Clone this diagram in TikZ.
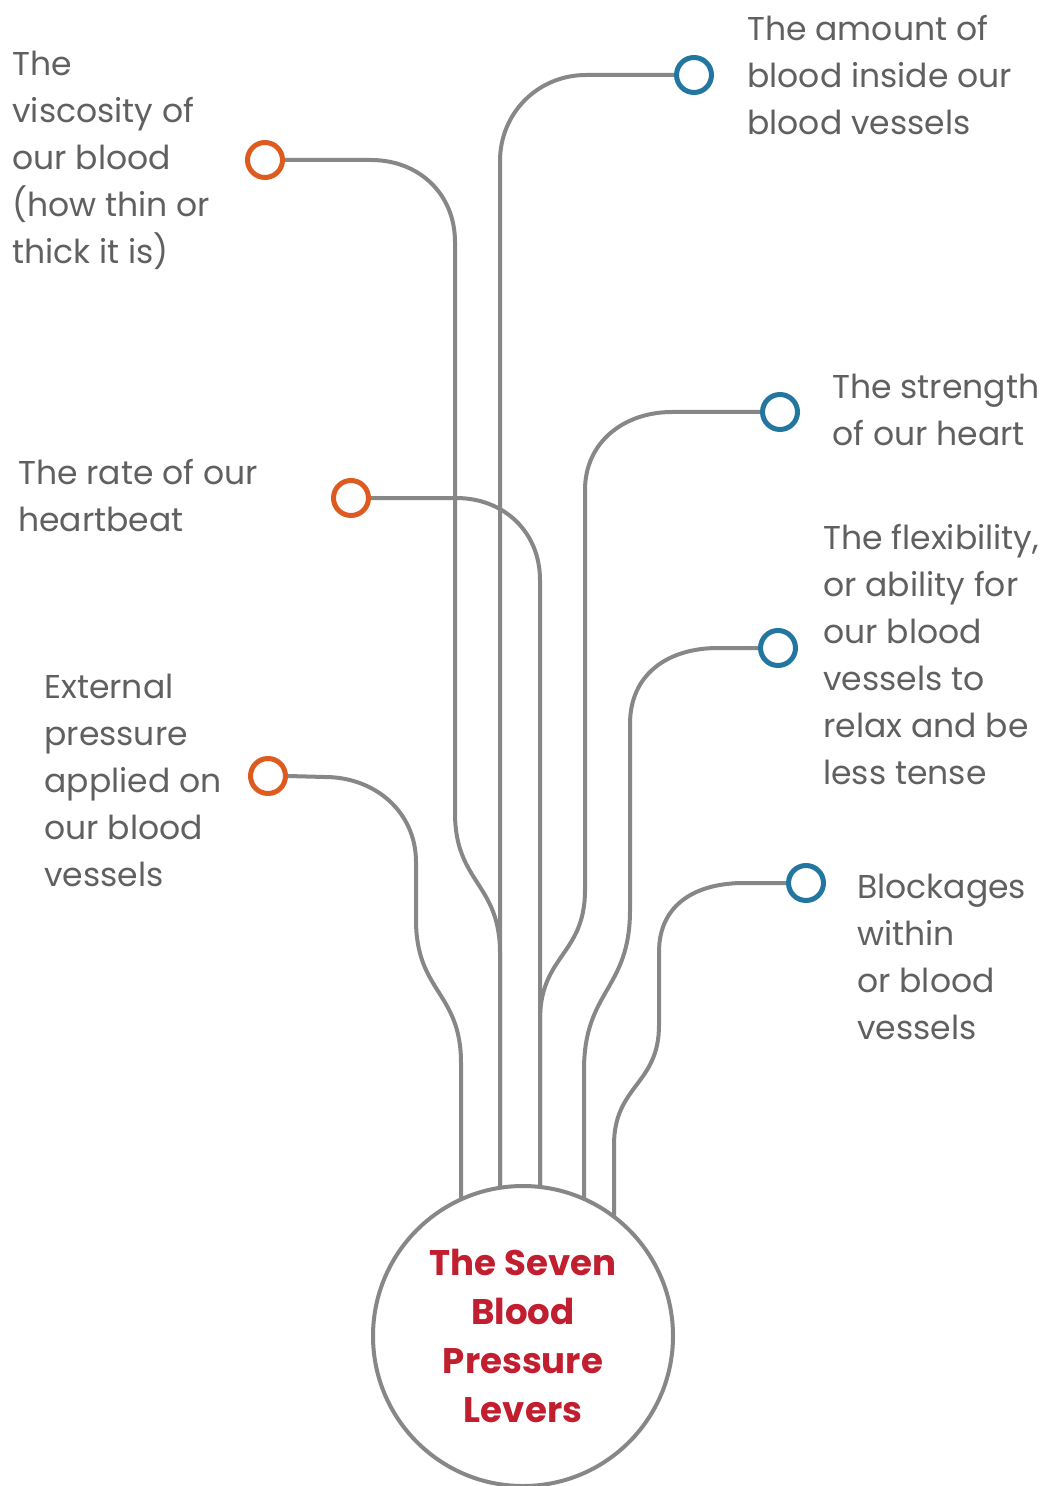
\documentclass[tikz,border=0pt]{standalone}
\usepackage{fontspec}
\setmainfont{Poppins}
\usepackage{tikz}
\usetikzlibrary{positioning,backgrounds}
\definecolor{lvgray}{HTML}{878787}
\definecolor{txtgray}{HTML}{606060}
\definecolor{lvorange}{HTML}{DE5B1F}
\definecolor{lvblue}{HTML}{23769F}
\definecolor{lvred}{HTML}{C11F30}

\begin{document}
\begin{tikzpicture}[
  x=0.5pt, y=-0.5pt,
  every node/.style={font=\fontsize{16.5}{23.5}\selectfont, text=txtgray},
  label/.style={align=left, inner sep=0pt, anchor=west},
  dot/.style={circle, draw, line width=2.5pt, fill=white, minimum size=17.5pt, inner sep=0pt},
  lever/.style={draw=lvgray, line width=2pt}
]
\useasboundingbox (0,0) rectangle (1053,1486);

% the centre circle
\node[circle, draw=lvgray, line width=2pt, fill=white, minimum size=150pt, inner sep=0pt,
  align=center, text=lvred, font=\fontsize{17.8}{24.5}\selectfont\bfseries] (big) at (523,1336)
  {The Seven\\Blood\\Pressure\\Levers};

% lever ends
\node[dot, draw=lvorange] (visc) at (265,160) {};
\node[dot, draw=lvorange] (rate) at (351,498) {};
\node[dot, draw=lvorange] (ext) at (268,776) {};
\node[dot, draw=lvblue] (amount) at (694,75) {};
\node[dot, draw=lvblue] (strength) at (780,412) {};
\node[dot, draw=lvblue] (flex) at (778,648) {};
\node[dot, draw=lvblue] (block) at (806,883) {};

% texts
\node[label] (visct) at (12,160) {The\\viscosity of\\our blood\\(how thin or\\thick it is)};
\node[label] (ratet) at (18,496) {The rate of our\\heartbeat};
\node[label] (extt) at (44,780) {External\\pressure\\applied on\\our blood\\vessels};
\node[label] (amountt) at (747,75) {The amount of\\blood inside our\\blood vessels};
\node[label] (strengtht) at (832,410) {The strength\\of our heart};
\node[label] (flext) at (823,655) {The flexibility,\\or ability for\\our blood\\vessels to\\relax and be\\less tense};
\node[label] (blockt) at (857,957) {Blockages\\within\\or blood\\vessels};

% connectors
\begin{scope}[on background layer]
\draw[lever] (amount.west) -- (586,75) .. controls (538,75) and (500,113) .. (500,161) -- (500,1336);
\draw[lever] (visc.east) -- (371,160) .. controls (419,160) and (455,194) .. (455,242) -- (455,813)
  .. controls (455,883) and (500,883) .. (500,953) -- (500,1336);
\draw[lever] (rate.east) -- (456,498) .. controls (504,498) and (540,532) .. (540,580) -- (540,1336);
\draw[lever] (strength.west) -- (672,412) .. controls (624,412) and (585,442) .. (585,490) -- (585,890)
  .. controls (585,955) and (540,955) .. (540,1020) -- (540,1336);
\draw[lever] (flex.west) -- (718,648) .. controls (668,648) and (630,674) .. (630,724) -- (630,910)
  .. controls (630,990) and (584,990) .. (584,1070) -- (584,1336);
\draw[lever] (block.west) -- (744,883) .. controls (696,883) and (659,904) .. (659,952) -- (659,1025)
  .. controls (659,1085) and (614,1085) .. (614,1145) -- (614,1336);
\draw[lever] (ext.east) -- (325,777) .. controls (375,777) and (416,812) .. (416,862) -- (416,920)
  .. controls (416,992) and (461,992) .. (461,1063) -- (461,1336);
\end{scope}
\end{tikzpicture}
\end{document}
